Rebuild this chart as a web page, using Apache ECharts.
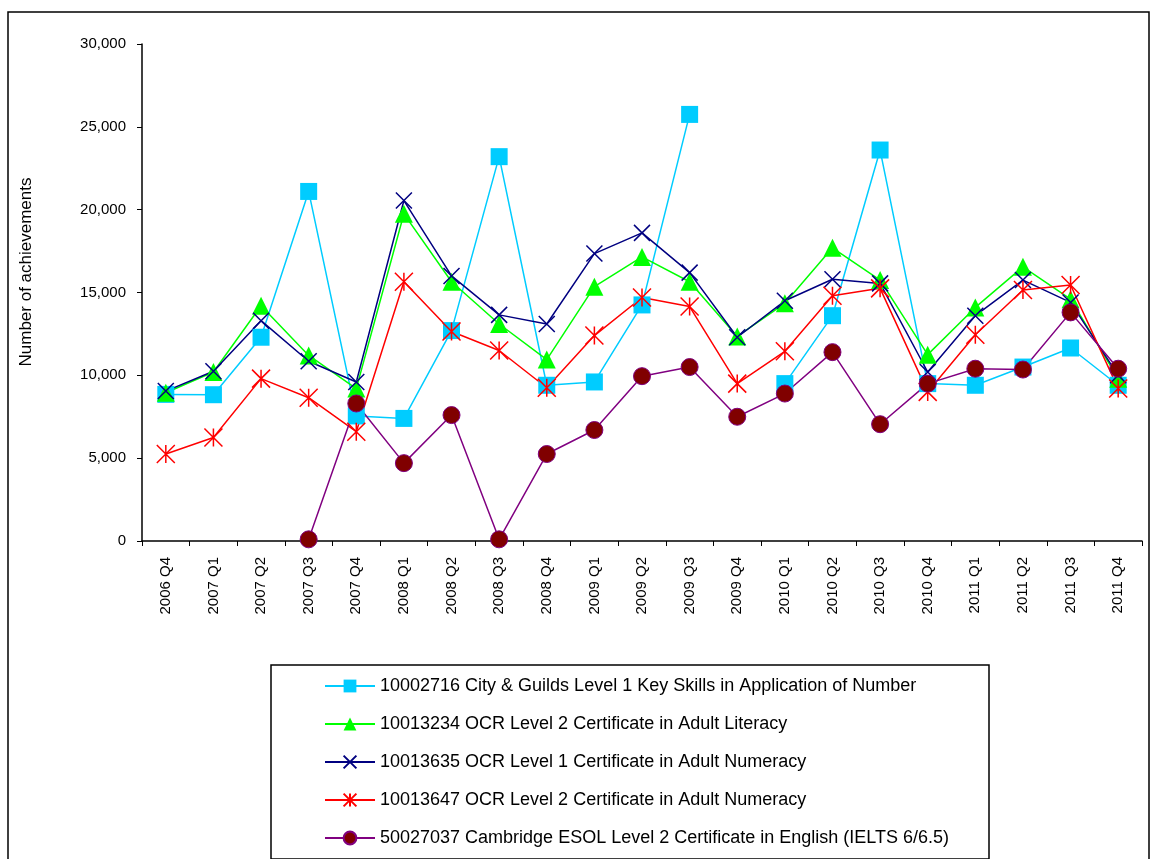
<!DOCTYPE html>
<html>
<head>
<meta charset="utf-8">
<script src="https://cdn.jsdelivr.net/npm/echarts@6/dist/echarts.min.js"></script>
<style>
  html, body { margin: 0; padding: 0; background: #fff; }
  #chart { width: 1152px; height: 859px; }
</style>
</head>
<body>
<div id="chart"></div>
<script>
// quarters on the x axis
var quarters = ["2006 Q4", "2007 Q1", "2007 Q2", "2007 Q3", "2007 Q4", "2008 Q1", "2008 Q2",
  "2008 Q3", "2008 Q4", "2009 Q1", "2009 Q2", "2009 Q3", "2009 Q4", "2010 Q1", "2010 Q2",
  "2010 Q3", "2010 Q4", "2011 Q1", "2011 Q2", "2011 Q3", "2011 Q4"];

var seriesNames = [
  "10002716 City & Guilds Level 1 Key Skills in Application of Number",
  "10013234 OCR Level 2 Certificate in Adult Literacy",
  "10013635 OCR Level 1 Certificate in Adult Numeracy",
  "10013647 OCR Level 2 Certificate in Adult Numeracy",
  "50027037 Cambridge ESOL Level 2 Certificate in English (IELTS 6/6.5)"
];

// number of achievements per quarter (null = no data)
var cityGuilds = [8850, 8830, 12300, 21100, 7550, 7400, 12700, 23200, 9400, 9600, 14250,
  25750, null, 9500, 13600, 23600, 9500, 9400, 10500, 11650, 9400];
var ocrLiteracy = [8950, 10200, 14200, 11200, 9200, 19750, 15650, 13100, 10950, 15350, 17150,
  15650, 12350, 14350, 17700, 15750, 11250, 14100, 16550, 14600, 9800];
var ocrNumeracy1 = [9050, 10250, 13300, 10850, 9600, 20550, 16000, 13650, 13100, 17350, 18600,
  16200, 12300, 14500, 15800, 15550, 10200, 13600, 15750, 14400, 10000];
var ocrNumeracy2 = [5250, 6250, 9800, 8650, 6600, 15650, 12650, 11500, 9250, 12400, 14700,
  14150, 9500, 11450, 14800, 15250, 9000, 12450, 15150, 15450, 9200];
var esol = [null, null, null, 100, 8300, 4700, 7600, 100, 5250, 6700, 9950,
  10500, 7500, 8900, 11400, 7050, 9500, 10400, 10350, 13800, 10400];

var yTicks = [0, 5000, 10000, 15000, 20000, 25000, 30000];

var font = "Liberation Sans, Arial, sans-serif";
var myChart = echarts.init(document.getElementById("chart"));

var option = {
  animation: false,
  backgroundColor: "#fff",
  textStyle: { fontFamily: font, color: "#000" },
  grid: { left: 142, right: 10, top: 44, bottom: 318 },
  legend: {
    orient: "vertical",
    left: 324,
    top: 677,
    padding: 0,
    itemWidth: 50,
    itemHeight: 16,
    itemGap: 20,
    textStyle: { fontFamily: font, fontSize: 18, color: "#000", lineHeight: 18 },
    data: seriesNames
  },
  xAxis: {
    type: "category",
    data: quarters,
    boundaryGap: true,
    axisLine: { show: true, lineStyle: { color: "#000", width: 1.5 } },
    axisTick: { show: true, length: 5, lineStyle: { color: "#000" } },
    axisLabel: { rotate: 90, fontSize: 15, color: "#000", margin: 16, interval: 0 },
    splitLine: { show: false }
  },
  yAxis: {
    type: "value",
    min: yTicks[0],
    max: yTicks[yTicks.length - 1],
    interval: 5000,
    axisLine: { show: true, lineStyle: { color: "#000", width: 1.5 } },
    axisTick: { show: true, length: 5, lineStyle: { color: "#000" } },
    axisLabel: {
      fontSize: 15, color: "#000", margin: 16,
      formatter: function (v) { return v.toLocaleString("en-US"); }
    },
    splitLine: { show: false }
  },
  graphic: [
    {
      type: "rect", silent: true,
      shape: { x: 8, y: 12, width: 1141, height: 900 },
      style: { fill: "none", stroke: "#000", lineWidth: 1.5 }
    },
    {
      type: "rect", silent: true,
      shape: { x: 271, y: 665, width: 718, height: 194 },
      style: { fill: "none", stroke: "#000", lineWidth: 1.5 }
    },
    {
      type: "text", silent: true,
      x: 26, y: 272, rotation: Math.PI / 2,
      style: {
        text: "Number of achievements", font: "17px " + font, fill: "#000",
        textAlign: "center", textVerticalAlign: "middle"
      }
    }
  ],
  series: [
    {
      name: seriesNames[0], type: "line", data: cityGuilds,
      symbol: "rect", symbolSize: 17,
      lineStyle: { color: "#00CCFF", width: 1.5 },
      itemStyle: { color: "#00CCFF" }
    },
    {
      name: seriesNames[1], type: "line", data: ocrLiteracy,
      symbol: "triangle", symbolSize: 18,
      lineStyle: { color: "#00FF00", width: 1.5 },
      itemStyle: { color: "#00FF00" }
    },
    {
      name: seriesNames[2], type: "line", data: ocrNumeracy1,
      symbol: "path://M0,0L20,20M20,0L0,20", symbolSize: 16,
      lineStyle: { color: "#000080", width: 1.5 },
      itemStyle: { color: "#000080", borderColor: "#000080", borderWidth: 1.5 }
    },
    {
      name: seriesNames[3], type: "line", data: ocrNumeracy2,
      symbol: "path://M0,0L20,20M20,0L0,20M10,0L10,20", symbolSize: 18,
      lineStyle: { color: "#FF0000", width: 1.5 },
      itemStyle: { color: "#FF0000", borderColor: "#FF0000", borderWidth: 1.5 }
    },
    {
      name: seriesNames[4], type: "line", data: esol,
      symbol: "circle", symbolSize: 17,
      lineStyle: { color: "#800080", width: 1.5 },
      itemStyle: { color: "#800000", borderColor: "#800080", borderWidth: 1 }
    }
  ]
};

myChart.setOption(option);
</script>
</body>
</html>
